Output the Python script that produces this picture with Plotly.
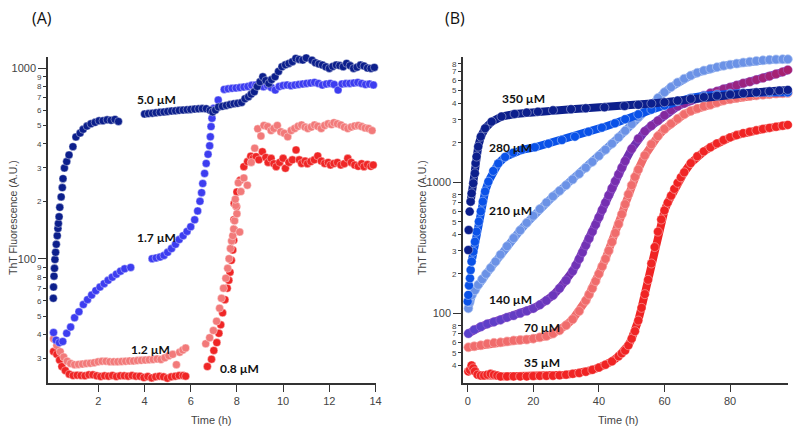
import plotly.graph_objects as go

# ---------- panel (A): ThT fluorescence vs time, low concentrations ----------
a_t_50 = [0.05, 0.06, 0.08, 0.1, 0.12, 0.15, 0.18, 0.22, 0.25, 0.27,
          0.3, 0.33, 0.39, 0.44, 0.47, 0.53, 0.63, 0.73, 0.9, 1.03,
          1.21, 1.34, 1.51, 1.68, 1.86, 2.03, 2.2, 2.38, 2.55, 2.72,
          2.87,
          4.0, 4.17, 4.34, 4.5, 4.67, 4.84, 5.0, 5.17, 5.34, 5.5,
          5.67, 5.84, 6.0, 6.17, 6.34, 6.5, 6.67, 6.84, 6.95, 7.07,
          7.2, 7.37, 7.54, 7.7, 7.87, 8.03, 8.2, 8.35, 8.5, 8.62,
          8.75, 8.88, 9.0, 9.12, 9.25, 9.38, 9.5, 9.65, 9.8, 9.95,
          10.1, 10.25, 10.4, 10.55, 10.7, 10.85, 11.0, 11.12, 11.25, 11.4,
          11.55, 11.7, 11.85, 12.0, 12.15, 12.3, 12.45, 12.6, 12.75, 12.9,
          13.05, 13.2, 13.35, 13.5, 13.65, 13.8, 13.95]
a_v_50 = [62, 71, 81, 89, 99, 108, 119, 132, 144, 153,
          166, 186, 211, 236, 263, 299, 323, 350, 387, 435,
          456, 477, 496, 510, 519, 529, 529, 535, 532, 538,
          525,
          574, 577, 580, 583, 586, 589, 592, 595, 597, 600,
          602, 605, 607, 609, 611, 613, 612, 600, 588, 602,
          625, 630, 637, 643, 650, 653, 660, 690, 707, 730,
          751, 800, 847, 900, 860, 831, 870, 900, 960, 1016,
          1040, 1058, 1080, 1124, 1110, 1101, 1130, 1156, 1100, 1066,
          1050, 1037, 1015, 996, 1020, 1037, 1030, 1016, 1058, 1030,
          996, 1010, 1037, 1025, 1000, 996, 1008]

a_t_17 = [0.06, 0.17, 0.31, 0.46, 0.63, 0.8, 0.97, 1.16, 1.35, 1.53,
          1.71, 1.89, 2.07, 2.25, 2.42, 2.6, 2.78, 2.96, 3.14, 3.4,
          4.33, 4.5, 4.67, 4.84, 5.0, 5.17, 5.34, 5.5, 5.67, 5.84,
          6.0, 6.17, 6.3, 6.4, 6.47, 6.52, 6.6, 6.67, 6.75, 6.82,
          6.85, 6.88, 6.92, 7.0, 7.19, 7.45, 7.62, 7.79, 7.96, 8.13,
          8.3, 8.47, 8.64, 8.81, 8.98, 9.15, 9.32, 9.49, 9.66, 9.83,
          10.0, 10.17, 10.34, 10.51, 10.68, 10.85, 11.02, 11.19, 11.36, 11.53,
          11.7, 11.87, 12.04, 12.21, 12.38, 12.55, 12.72, 12.89, 13.06, 13.23,
          13.4, 13.57, 13.74, 13.91, 14.05]
a_v_17 = [41, 37.4, 36.3, 36.8, 40.6, 43.8, 49, 52.7, 57.5, 61,
          64.5, 68, 71, 74, 77, 80, 83, 86, 88.5, 90,
          100, 101, 102, 104, 108, 113, 119, 126, 132, 139,
          147, 160, 178, 200, 222, 248, 280, 316, 353, 391,
          436, 493, 545, 615, 680, 773, 778, 783, 786, 790,
          795, 800, 812, 814, 805, 798, 810, 790, 767, 800,
          810, 815, 808, 814, 820, 825, 831, 835, 841, 830,
          814, 825, 831, 820, 767, 825, 830, 831, 835, 841,
          830, 820, 825, 815, 814]

a_t_12 = [0.06, 0.2, 0.35, 0.5, 0.65, 0.8, 0.97, 1.14, 1.31, 1.48,
          1.65, 1.82, 1.99, 2.16, 2.33, 2.5, 2.67, 2.84, 3.01, 3.18,
          3.35, 3.52, 3.69, 3.86, 4.03, 4.2, 4.37, 4.54, 4.71, 4.88,
          5.05, 5.22, 5.38, 5.52, 5.66, 5.78,
          6.65, 6.82, 6.98, 7.12,
          7.25, 7.33, 7.42, 7.52, 7.6, 7.66, 7.72, 7.77, 7.82, 7.86,
          7.9, 7.95, 8.0, 8.12, 7.93, 8.06, 8.17, 8.3, 8.45, 8.62,
          8.77, 8.9, 9.04, 9.17, 9.33, 9.48, 9.6, 9.75, 9.9, 10.05,
          10.2, 10.35, 10.5, 10.65, 10.8, 10.95, 11.07, 11.22, 11.36, 11.5,
          11.65, 11.8, 11.95, 12.1, 12.2, 12.35, 12.5, 12.65, 12.8, 12.95,
          13.1, 13.25, 13.4, 13.55, 13.7, 13.85, 14.04]
a_v_12 = [38, 35, 32.5, 30.5, 29, 28.2, 27.8, 27.9, 28, 28.2,
          28.3, 28.5, 28.8, 29, 29, 28.8, 28.8, 28.8, 28.9, 29,
          29.1, 29.1, 29.2, 29.3, 29.4, 29.5, 29.6, 29.8, 29.6, 30.2,
          31, 31.5, 27.8, 32.3, 33.2, 34,
          35.8, 38.5, 42, 47,
          55, 62, 70, 79, 89, 100, 113, 124, 132, 143,
          158, 190, 172, 138, 205, 250, 225, 265, 243, 320,
          380, 480, 440, 500, 493, 470, 482, 500, 463, 455,
          436, 470, 482, 495, 503, 490, 482, 490, 503, 495,
          482, 500, 510, 505, 517, 510, 503, 490, 482, 490,
          497, 500, 493, 485, 482, 470, 473]

a_t_08 = [0.06, 0.2, 0.32, 0.42, 0.57, 0.74, 0.91, 1.08, 1.25, 1.42,
          1.59, 1.76, 1.93, 2.1, 2.27, 2.44, 2.61, 2.78, 2.95, 3.12,
          3.29, 3.46, 3.63, 3.8, 3.97, 4.14, 4.31, 4.48, 4.65, 4.82,
          4.99, 5.16, 5.33, 5.5, 5.67, 5.78,
          6.72, 6.9, 7.0, 7.13,
          7.22, 7.3, 7.38, 7.48, 7.58, 7.65, 7.7, 7.76, 7.82, 7.86,
          7.9, 7.87, 7.98, 7.88, 8.0, 8.14, 8.3, 8.46, 8.6, 8.7,
          8.83, 8.95, 9.1, 9.25, 9.35, 9.48, 9.6, 9.7, 9.85, 10.0,
          10.1, 10.25, 10.4, 10.56, 10.7, 10.8, 10.95, 11.05, 11.2, 11.35,
          11.5, 11.65, 11.8, 11.95, 12.05, 12.2, 12.35, 12.5, 12.65, 12.8,
          12.95, 13.1, 13.25, 13.4, 13.5, 13.65, 13.8, 13.9, 14.04]
a_v_08 = [32.6, 31.5, 29.4, 27.2, 25.9, 24.8, 24.4, 24.5, 24.4, 24.3,
          24.6, 24.6, 24.3, 24.1, 24.3, 24.2, 24.4, 24.1, 24.3, 24.3,
          24.2, 24.4, 24.2, 24.2, 23.8, 24.1, 23.7, 24.0, 24.2, 24.0,
          23.6, 24.0, 24.2, 24.4, 24.4, 24.2,
          27.2, 29.7, 33, 36.3,
          40.6, 45, 52, 61, 70, 77, 85, 98, 111, 125,
          141, 160, 188, 195, 224, 258, 304, 323, 345, 336,
          343, 330, 364, 340, 320, 336, 315, 304, 320, 336,
          298, 320, 330, 372, 330, 316, 325, 315, 323, 330,
          346, 325, 316, 320, 310, 316, 320, 310, 315, 336,
          320, 310, 305, 315, 304, 312, 305, 310, 280]

# ---------- panel (B): higher concentrations ----------
b_t_350 = [0.2, 0.3, 0.6, 0.9, 1.2, 1.7, 2.2, 2.4, 2.7, 3.2,
           4.0, 5.3, 7.3, 10.3, 14.3, 18, 21.4, 26, 31.5, 36,
           41.7, 47.8, 52, 56, 60, 64, 68, 72, 76, 80,
           84, 88, 92, 95, 97.6]
b_v_350 = [304, 432, 597, 711, 823, 982, 1170, 1400, 1570, 1870,
           2230, 2580, 2900, 3170, 3320, 3400, 3460, 3540, 3610, 3670,
           3730, 3820, 3900, 3990, 4080, 4200, 4330, 4470, 4580, 4680,
           4780, 4860, 4950, 5010, 5070]

b_t_280 = [0, 0.2, 0.4, 0.7, 0.9, 1.2, 1.7, 2.2, 2.7, 3.4,
           4.0, 4.6, 5.3, 6.3, 7.8, 9.3, 11.4, 13.9, 16.5, 20.5,
           24.6, 28.7, 32.7, 36.8, 40.9, 44.9, 48, 52, 56, 60,
           64, 68, 72, 76, 80, 84, 88, 92, 97.6]
b_v_280 = [123, 138, 163, 185, 214, 248, 295, 352, 420, 501,
           600, 711, 850, 1010, 1220, 1390, 1560, 1680, 1770, 1850,
           1970, 2100, 2230, 2430, 2610, 2820, 3030, 3300, 3580, 3850,
           4150, 4400, 4570, 4680, 4750, 4800, 4830, 4850, 4850]

b_t_210 = [0.2, 0.6, 1.3, 2.2, 3.2, 4.4, 5.6, 7, 8.5, 10,
           12, 14, 16, 18, 20, 22, 24, 26, 28, 30,
           32, 34, 36, 38, 40, 42, 44, 46, 48, 50,
           52, 54, 56, 58, 60, 62, 64, 66, 68, 70,
           72, 74, 76, 78, 80, 82, 84, 86, 88, 90,
           92, 94, 96, 97.6]
b_v_210 = [109, 122, 138, 150, 165, 182, 200, 222, 248, 280,
           325, 375, 430, 490, 555, 625, 700, 780, 860, 950,
           1050, 1160, 1290, 1430, 1590, 1770, 1970, 2200, 2470, 2780,
           3130, 3520, 3950, 4400, 4870, 5330, 5780, 6170, 6520, 6850,
           7120, 7350, 7560, 7750, 7900, 8050, 8200, 8320, 8430, 8530,
           8600, 8660, 8700, 8690]

b_t_140 = [0.2, 2, 4, 6, 8, 10, 12, 14, 16, 18,
           20, 22, 24, 26, 28, 30, 32, 33, 34, 35,
           36, 37, 38, 39, 40, 41, 42, 43, 44, 45,
           46, 47, 48, 50, 52, 54, 56, 58, 60, 62,
           64, 66, 68, 70, 72, 74, 76, 78, 80, 82,
           84, 86, 88, 90, 92, 94, 96, 97.6]
b_v_140 = [70, 75, 79, 83, 86, 89, 93, 96, 100, 104,
           109, 116, 125, 137, 155, 178, 210, 233, 260, 292,
           330, 372, 420, 475, 540, 615, 700, 795, 900, 1020,
           1150, 1290, 1450, 1800, 2150, 2450, 2700, 2950, 3250, 3550,
           3800, 4000, 4200, 4400, 4600, 4800, 4950, 5150, 5300, 5500,
           5700, 5850, 6050, 6250, 6450, 6700, 6950, 7200]

b_t_70 = [0.2, 2, 4, 6, 8, 10, 12, 14, 16, 18,
          20, 22, 24, 26, 28, 30, 32, 34, 36, 37,
          38, 39, 40, 41, 42, 43, 44, 45, 46, 47,
          48, 49, 50, 51, 52, 54, 56, 58, 60, 62,
          64, 66, 68, 70, 72, 74, 76, 78, 80, 82,
          84, 86, 88, 90, 92, 94, 96, 97.6]
b_v_70 = [55, 56, 57, 58.5, 59.5, 60, 61, 62, 62.5, 63,
          64, 65.5, 67, 70, 74, 81, 90, 104, 125, 139,
          155, 176, 200, 228, 260, 300, 350, 410, 480, 570,
          680, 810, 950, 1100, 1250, 1600, 1950, 2250, 2550, 2800,
          3050, 3300, 3500, 3650, 3800, 3900, 4050, 4200, 4300, 4400,
          4500, 4550, 4600, 4650, 4700, 4750, 4780, 4800]

b_t_35 = [0.2, 0.7, 1.2, 1.7, 2.2, 3, 4, 5, 6, 7,
          8, 9, 10, 12, 14, 16, 18, 20, 22, 24,
          26, 28, 30, 32, 34, 36, 38, 40, 42, 44,
          46, 47, 48, 49, 50, 51, 52, 53, 54, 55,
          56, 57, 58, 59, 60, 61, 62, 63, 64, 65,
          66, 68, 70, 72, 74, 76, 78, 80, 82, 84,
          86, 88, 90, 92, 94, 96, 97.6]
b_v_35 = [36, 37, 40, 38, 36, 34, 33.5, 33.5, 34, 34.5,
          34, 33.5, 33, 33, 33, 33, 33, 33.2, 33.3, 33.3,
          33.4, 33.6, 34, 34.5, 35, 35.8, 37, 38.5, 40.5, 43,
          47, 49.5, 52, 57, 64, 73, 88, 110, 140, 180,
          240, 320, 420, 520, 610, 700, 790, 890, 990, 1090,
          1190, 1400, 1580, 1720, 1850, 1980, 2100, 2200, 2290, 2370,
          2430, 2490, 2550, 2600, 2650, 2700, 2740]

minor_a = [30, 40, 50, 60, 70, 80, 90, 200, 300, 400, 500, 600, 700, 800, 900]
minor_a_text = ["3", "4", "5", "6", "7", "8", "9", "2", "3", "4", "5", "6", "7", "8", "9"]
minor_b = [40, 50, 60, 70, 80, 200, 300, 400, 500, 600, 700, 800,
           2000, 3000, 4000, 5000, 6000, 7000, 8000]
minor_b_text = ["4", "5", "6", "7", "8", "2", "3", "4", "5", "6", "7", "8",
                "2", "3", "4", "5", "6", "7", "8"]

NAVY = "#0c1f8c"
BLUE17 = "#3d3df0"
SALMON = "#f27a7a"
RED = "#ef2626"

fig = go.Figure()


def dots(x, y, color, xa, ya, size=8, rim="rgba(255,255,255,0.55)", mode="markers",
         lw=0, lcolor=None, cscale=None):
    marker = dict(size=size, color=color, line=dict(width=0.7, color=rim))
    if cscale:
        marker.update(colorscale=cscale, showscale=False)
    fig.add_trace(go.Scatter(
        x=x, y=y, mode=mode, xaxis=xa, yaxis=ya, cliponaxis=False, marker=marker,
        line=dict(color=lcolor or color, width=lw), hoverinfo="skip"))


# panel A
dots(a_t_08, a_v_08, RED, "x", "y")
dots(a_t_12, a_v_12, SALMON, "x", "y")
dots(a_t_17, a_v_17, BLUE17, "x", "y")
dots(a_t_50, a_v_50, NAVY, "x", "y")

# panel B (dense readings -> a thick line under the dots)
dots(b_t_35, b_v_35, "#f02424", "x2", "y2", size=9, mode="lines+markers", lw=8)
dots(b_t_70, b_v_70, "#f06c6c", "x2", "y2", size=9, rim="#f8aaaa", mode="lines+markers", lw=8)
# 140 µM dots shift from violet to magenta over time
dots(b_t_140, b_v_140, b_t_140, "x2", "y2", size=9, rim="rgba(170,120,220,0.6)",
     mode="lines+markers", lw=8, lcolor="#7030b0",
     cscale=[[0, "#5a42cc"], [0.5, "#7a2cac"], [1, "#a8206e"]])
dots(b_t_210, b_v_210, "#6b92e6", "x2", "y2", size=9, rim="#b3c8f4", mode="lines+markers", lw=8)
dots(b_t_280[:6], b_v_280[:6], "#0a52e8", "x2", "y2", size=9)
dots(b_t_280[5:], b_v_280[5:], "#0a52e8", "x2", "y2", size=9, mode="lines+markers", lw=8)
dots(b_t_350[:4], b_v_350[:4], NAVY, "x2", "y2", size=9)
dots(b_t_350[3:], b_v_350[3:], NAVY, "x2", "y2", size=9, mode="lines+markers", lw=8)

# empty traces so the overlay axes carrying the small digit labels get drawn
fig.add_trace(go.Scatter(x=[], y=[], xaxis="x", yaxis="y3"))
fig.add_trace(go.Scatter(x=[], y=[], xaxis="x2", yaxis="y4"))

tick_font = dict(family="Liberation Sans", size=11, color="#444")
small_font = dict(family="Liberation Sans", size=8, color="#444")
ydom = [50 / 433, 376 / 433]
a_yr = [1.348, 3.058]
b_yr = [1.468, 3.956]

axis_common = dict(showgrid=False, zeroline=False, showline=True, linecolor="#333",
                   linewidth=1.5, ticks="outside", tickcolor="#333", tickwidth=1.2,
                   automargin=False)
minor_common = dict(side="left", showgrid=False, zeroline=False, showline=False,
                    ticks="outside", ticklen=4, tickcolor="#333", tickfont=small_font,
                    automargin=False)

fig.update_layout(
    width=800, height=433, margin=dict(l=0, r=0, t=0, b=0),
    paper_bgcolor="white", plot_bgcolor="white", showlegend=False,
    xaxis=dict(axis_common, domain=[48 / 800, 375.5 / 800], range=[-0.18, 14.0],
               tickvals=[2, 4, 6, 8, 10, 12, 14], ticklen=7, tickfont=tick_font, anchor="y"),
    yaxis=dict(axis_common, domain=ydom, type="log", range=a_yr, tickvals=[100, 1000],
               ticktext=["100", "1000"], ticklen=8, tickfont=tick_font, anchor="x"),
    yaxis3=dict(minor_common, overlaying="y", anchor="x", type="log", range=a_yr,
                tickvals=minor_a, ticktext=minor_a_text),
    xaxis2=dict(axis_common, domain=[463 / 800, 788 / 800], range=[-1.43, 97.65],
                tickvals=[0, 20, 40, 60, 80], ticklen=7, tickfont=tick_font, anchor="y2"),
    yaxis2=dict(axis_common, domain=ydom, type="log", range=b_yr, tickvals=[100, 1000],
                ticktext=["100", "1000"], ticklen=8, tickfont=tick_font, anchor="x2"),
    yaxis4=dict(minor_common, overlaying="y2", anchor="x2", type="log", range=b_yr,
                tickvals=minor_b, ticktext=minor_b_text),
)

# concentration labels: (text, x, log10 y, axes)
conc_labels = [
    ("5.0 µM", 4.52, 2.837, "x", "y"),
    ("1.7 µM", 4.52, 2.109, "x", "y"),
    ("1.2 µM", 4.24, 1.526, "x", "y"),
    ("0.8 µM", 8.13, 1.422, "x", "y"),
    ("350 µM", 17.0, 3.636, "x2", "y2"),
    ("280 µM", 12.9, 3.262, "x2", "y2"),
    ("210 µM", 12.9, 2.781, "x2", "y2"),
    ("140 µM", 12.9, 2.102, "x2", "y2"),
    ("70 µM", 22.6, 1.888, "x2", "y2"),
    ("35 µM", 22.6, 1.628, "x2", "y2"),
]
for txt, x, y, xr, yr in conc_labels:
    fig.add_annotation(text=f"<b>{txt}</b>", x=x, y=y, xref=xr, yref=yr, showarrow=False,
                       xanchor="center", yanchor="middle",
                       font=dict(family="Lato", size=12, color="#111"))

for txt, px in [("(A)", 41.5), ("(B)", 455)]:
    fig.add_annotation(text=txt, x=px / 800, y=1 - 17.5 / 433, xref="paper", yref="paper",
                       xanchor="center", yanchor="middle", showarrow=False,
                       font=dict(family="Open Sans", size=16, color="#111"))

for px in [211, 618.5]:
    fig.add_annotation(text="Time (h)", x=px / 800, y=1 - 420 / 433, xref="paper", yref="paper",
                       xanchor="center", yanchor="middle", showarrow=False,
                       font=dict(family="Liberation Sans", size=11, color="#444"))
for px in [13, 422]:
    fig.add_annotation(text="ThT Fluorescence (A.U.)", x=px / 800, y=1 - 218 / 433,
                       xref="paper", yref="paper", textangle=-90, showarrow=False,
                       xanchor="center", yanchor="middle",
                       font=dict(family="Liberation Sans", size=10.5, color="#444"))

# the page body has a default 8px margin; remove it so the figure sits at the window corner
fig.write_html("out.html", config={"displayModeBar": False},
               post_script="document.body.style.margin='0';")
